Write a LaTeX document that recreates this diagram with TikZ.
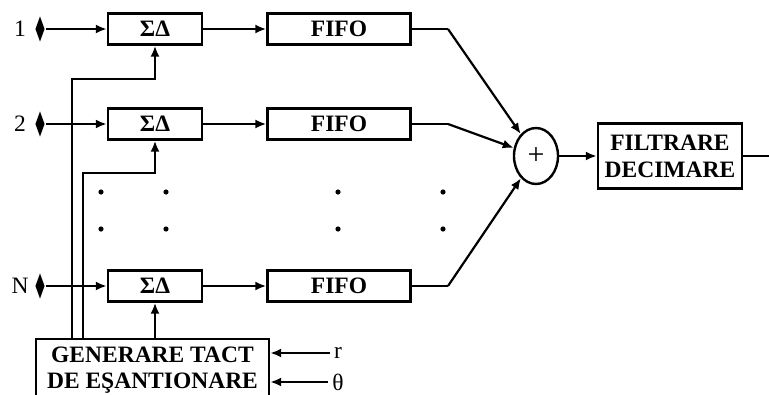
\documentclass[tikz,border=0pt]{standalone}
\usepackage{fontspec}
\setmainfont{Liberation Serif}
\usetikzlibrary{arrows.meta,shapes.geometric}
\newcommand{\txtsize}{\fontsize{23.5}{26}\selectfont}
\tikzset{
  blk/.style={draw,line width=2.4pt,font=\txtsize\bfseries,inner sep=0pt},
  sdbox/.style={blk,minimum width=94pt,minimum height=31pt},
  fifobox/.style={blk,minimum width=143pt,minimum height=31pt},
  inp/.style={diamond,fill=black,inner sep=0pt,minimum width=10pt,minimum height=26pt},
}
\begin{document}
\begin{tikzpicture}[x=1pt,y=-1pt,line width=2.2pt,font=\txtsize,
  >={Latex[length=11pt,width=9pt]}]
\useasboundingbox (0,0) rectangle (769,394);
\foreach \i/\lab/\y in {1/1/29,2/2/124,n/N/286}{
  \node[inp] (in\i) at (40,\y) {};
  \node (lab\i) at (20,\y) {\lab};
  \node[sdbox] (sd\i) at (155,\y) {ΣΔ};
  \node[fifobox] (ff\i) at (339,\y) {FIFO};
  \coordinate (j\i) at (448,\y);
  \draw[->] (in\i) -- (sd\i);
  \draw[->] (sd\i) -- (ff\i);
  \draw (ff\i) -- (j\i);
}
\foreach \x in {101,166,338,443}
  \foreach \y in {192,229}
    \fill (\x,\y) circle (2.6);
\node[draw,ellipse,line width=2.4pt,inner sep=0pt,minimum width=44pt,minimum height=56pt,font=\fontsize{30}{30}\selectfont] (sum) at (536,156) {+};
\draw[->] (j1) -- (sum);
\draw[->] (j2) -- (sum);
\draw[->] (jn) -- (sum);
\node[blk,minimum width=144pt,minimum height=65pt,align=center,font=\fontsize{23.5}{27}\selectfont\bfseries] (filt) at (670,156) {FILTRARE\\DECIMARE};
\coordinate (out) at (769,156);
\draw[->] (sum) -- (filt);
\draw (filt) -- (out);
\node[blk,minimum width=233pt,minimum height=62pt,align=center] (gen) at (152.5,370) {GENERARE TACT\\DE EŞANTIONARE};
\draw[->] ([xshift=37]gen.north west) -- ++(0,-259) -| (sd1);
\draw[->] ([xshift=48]gen.north west) -- ++(0,-165) -| (sd2);
\draw[->] (sdn |- gen.north) -- (sdn);
\node (rlab) at (338,353) {r};
\node (thlab) at (338,382) {θ};
\draw[->] (rlab) -- (rlab -| gen.east);
\draw[->] (thlab) -- (thlab -| gen.east);
\end{tikzpicture}
\end{document}
